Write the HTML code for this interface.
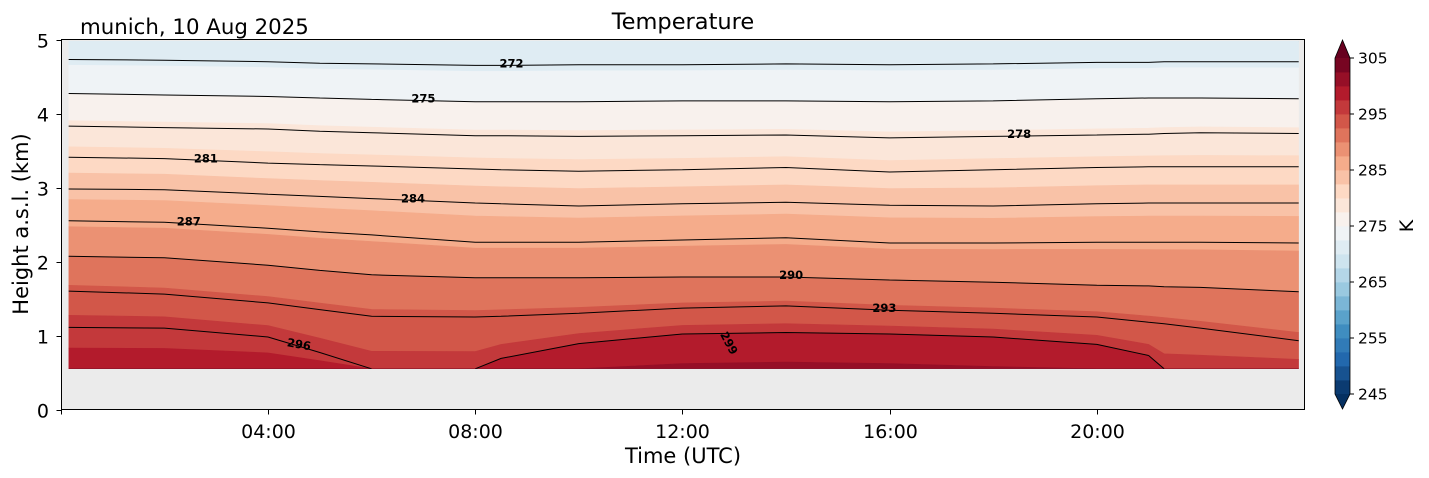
<!DOCTYPE html>
<html><head><meta charset="utf-8">
<style>
body{margin:0;background:#fff;}
svg{display:block;font-family:"DejaVu Sans","Liberation Sans",sans-serif;}
</style></head>
<body>
<svg id="chart" width="1429" height="478" viewBox="0 0 1429 478" xmlns="http://www.w3.org/2000/svg">
<text x="80" y="34" font-size="21.3" fill="#000">munich, 10 Aug 2025</text>
<text x="683" y="29" font-size="22.5" text-anchor="middle" fill="#000">Temperature</text>
<rect x="61.5" y="39.5" width="1243" height="370" fill="#ebebeb"/>
<defs><clipPath id="dclip"><rect id="dclipRect" x="0" y="0" width="0" height="0"/></clipPath></defs>
<g id="bands" clip-path="url(#dclip)"></g>
<g id="contours" clip-path="url(#dclip)"></g>
<g id="clabels"></g>
<rect x="61.5" y="39.5" width="1243" height="370" fill="none" stroke="#000" stroke-width="1"/>
<g id="axes"></g>
<g id="cbar"></g>
<text transform="translate(28,224) rotate(-90)" font-size="21" text-anchor="middle">Height a.s.l. (km)</text>
<text x="683" y="463" font-size="21" text-anchor="middle">Time (UTC)</text>
</svg>
<script>
// ---- data ----
const times = [0.15,2,4,5,6,8,8.5,10,12,14,16,18,20,21,21.3,22,23.9];
const levels = [272,275,278,281,284,287,290,293,296,299];
const h272 = [4.73,4.72,4.70,4.68,4.67,4.65,4.65,4.66,4.66,4.67,4.66,4.67,4.69,4.69,4.70,4.70,4.70];
const h275 = [4.27,4.25,4.23,4.21,4.19,4.16,4.16,4.16,4.17,4.17,4.16,4.17,4.20,4.21,4.21,4.21,4.20];
const h278 = [3.83,3.81,3.79,3.76,3.74,3.70,3.70,3.69,3.70,3.71,3.67,3.69,3.71,3.72,3.73,3.74,3.73];
const h281 = [3.41,3.39,3.33,3.31,3.29,3.25,3.24,3.22,3.24,3.27,3.21,3.24,3.27,3.28,3.28,3.28,3.28];
const h284 = [2.98,2.97,2.91,2.88,2.85,2.79,2.78,2.75,2.78,2.80,2.76,2.75,2.78,2.79,2.79,2.79,2.79];
const h287 = [2.55,2.53,2.45,2.40,2.36,2.26,2.26,2.26,2.29,2.32,2.25,2.25,2.26,2.26,2.26,2.26,2.25];
const h290 = [2.07,2.05,1.95,1.88,1.82,1.78,1.78,1.78,1.79,1.79,1.75,1.72,1.68,1.67,1.66,1.65,1.59];
const h293 = [1.60,1.56,1.44,1.35,1.26,1.25,1.26,1.30,1.37,1.40,1.34,1.30,1.25,1.18,1.16,1.10,0.93];
const h296 = [1.11,1.10,0.98,0.77,0.55,0.55,0.69,0.89,1.02,1.04,1.02,0.98,0.88,0.73,0.55,0.55,0.55];
const h299 = [0.55,0.55,0.55,0.55,0.55,0.55,0.69,0.89,1.02,1.04,1.02,0.98,0.88,0.73,0.55,0.55,0.55];
const labelLevels = [272,275,278,281,284,287,290,293,296,299];
const labelTimes = [8.7,7.0,18.5,2.8,6.8,2.47,14.1,15.9,4.6,12.9];
const labelAngles = [0,0,0,0,0,0,0,0,10,62];
const xTickHours = [4,8,12,16,20];
const xTickLabels = ["04:00","08:00","12:00","16:00","20:00"];
const yTicks = [0,1,2,3,4,5];
const cbTicks = [245,255,265,275,285,295,305];
const dataBottom = 0.55, dataTop = 4.98;
const vmin = 245, vmax = 305, vstep = 2.5;

// ---- axes functions ----
const X0 = 61.5, X1 = 1304.5, Y0 = 409.5, Y1 = 39.5;
const xs = h => 60.8 + 51.8 * h;
const ys = z => Y0 - (Y0 - Y1) * z / 5;
const cbY = v => 394 - (v - 245) * (336 / 60);
const NS = "http://www.w3.org/2000/svg";
function mk(tag, attrs, parent){ const e = document.createElementNS(NS, tag); for (const k in attrs) e.setAttribute(k, attrs[k]); parent.appendChild(e); return e; }

const heights = [h272,h275,h278,h281,h284,h287,h290,h293,h296,h299];
const cmapStops = ["#053061","#2166ac","#4393c3","#92c5de","#d1e5f0","#f7f7f7","#fddbc7","#f4a582","#d6604d","#b2182b","#67001f"];
function hex(c){return [1,3,5].map(i=>parseInt(c.substr(i,2),16));}
function cmap(n){ n=Math.max(0,Math.min(1,n)); const p=n*10, i=Math.min(9,Math.floor(p)), f=p-i; const a=hex(cmapStops[i]), b=hex(cmapStops[i+1]); return "rgb("+a.map((v,k)=>Math.round(v+(b[k]-v)*f)).join(",")+")"; }

function hAt(L, j){
  const n = levels.length;
  if (L <= levels[0]) { const s = (heights[1][j]-heights[0][j])/(levels[1]-levels[0]); return heights[0][j] + s*(L-levels[0]); }
  if (L >= levels[n-1]) { return heights[n-1][j] - 0.4*(L-levels[n-1]); }
  for (let i=0;i<n-1;i++){ if (L>=levels[i] && L<=levels[i+1]){ const f=(L-levels[i])/(levels[i+1]-levels[i]); return heights[i][j]+f*(heights[i+1][j]-heights[i][j]); } }
}
const clampZ = z => Math.max(dataBottom, Math.min(dataTop, z));

const cr = document.getElementById('dclipRect');
cr.setAttribute('x', xs(times[0])); cr.setAttribute('width', xs(times[times.length-1]) - xs(times[0]));
cr.setAttribute('y', ys(dataTop)); cr.setAttribute('height', ys(dataBottom) - ys(dataTop));

const gB = document.getElementById('bands');
const nb = Math.round((vmax - vmin)/vstep);
for (let b=-1; b<=nb; b++){
  const lo = vmin + b*vstep, hi = lo + vstep;
  const col = b < 0 ? cmapStops[0] : (b >= nb ? cmapStops[10] : cmap((lo + vstep/2 - vmin)/(vmax-vmin)));
  const top = times.map((t,j)=>[xs(t), ys(clampZ(b<0?10:hAt(lo,j)))]);
  const bot = times.map((t,j)=>[xs(t), ys(clampZ(b>=nb?-10:hAt(hi,j)))]);
  const pts = top.concat(bot.reverse()).map(p=>p[0].toFixed(1)+","+p[1].toFixed(1)).join(" ");
  const pg = mk('polygon', {points: pts, fill: col, stroke: col, 'stroke-width': 0.6}, gB);
  
  
}

const gC = document.getElementById('contours');
levels.forEach((L, i) => {
  const h = heights[i];
  const vis = h.map((z,j) => z > 0.56 && (i === levels.length-1 || z - heights[i+1][j] > 0.005));
  let d = "";
  for (let j=0;j<times.length-1;j++){
    if (vis[j] || vis[j+1]) {
      d += "M"+xs(times[j]).toFixed(1)+","+ys(h[j]).toFixed(1)+"L"+xs(times[j+1]).toFixed(1)+","+ys(h[j+1]).toFixed(1);
    }
  }
  const p = mk('path', {d: d, fill: 'none', stroke: '#000', 'stroke-width': 1, 'stroke-linejoin':'round'}, gC);
  
  
});
function hInterp(i, t){
  const h = heights[i];
  for (let j=0;j<times.length-1;j++){ if (t>=times[j] && t<=times[j+1]){ const f=(t-times[j])/(times[j+1]-times[j]); return h[j]+f*(h[j+1]-h[j]); } }
  return h[h.length-1];
}
const gL = document.getElementById('clabels');
labelLevels.forEach((L, k) => {
  const i = levels.indexOf(L);
  const x = xs(labelTimes[k]);
  let z = hInterp(i, labelTimes[k]);
  if (L === 299) z = 0.87;
  const y = ys(z) + 2;
  const t = mk('text', {x: x, y: y, 'font-size': 11.5, 'font-weight': 'bold', 'text-anchor': 'middle', transform: 'rotate(' + labelAngles[k] + ' ' + x + ' ' + (y-4) + ')'}, gL);
  t.textContent = L;
  
  
});

const gA = document.getElementById('axes');
mk('line', {x1: X0, y1: Y0, x2: X0, y2: Y0+5, stroke: '#000'}, gA);
xTickHours.forEach((h, k) => {
  const x = Math.round(xs(h)) + 0.5;
  const l = mk('line', {x1: x, y1: Y0, x2: x, y2: Y0+5, stroke: '#000'}, gA);
  
  
  const t = mk('text', {x: x, y: 438, 'font-size': 19, 'text-anchor': 'middle'}, gA);
  t.textContent = xTickLabels[k];
  
  
});
yTicks.forEach(v => {
  const y = Math.round(ys(v)) + 0.5;
  const l = mk('line', {x1: X0-5, y1: y, x2: X0, y2: y, stroke: '#000'}, gA);
  
  
  const t = mk('text', {x: 49, y: y+7, 'font-size': 19, 'text-anchor': 'end'}, gA);
  t.textContent = v;
  
  
});

const gCb = document.getElementById('cbar');
const cx0 = 1335, cx1 = 1350;
for (let b=0; b<nb; b++){
  const lo = vmin + b*vstep;
  const r = mk('rect', {x: cx0, y: cbY(lo+vstep).toFixed(2), width: cx1-cx0, height: (cbY(lo)-cbY(lo+vstep)+0.4).toFixed(2), fill: cmap((lo+vstep/2-vmin)/(vmax-vmin))}, gCb);
  
  
}
const up = mk('polygon', {points: cx0+","+cbY(vmax)+" "+(cx0+cx1)/2+",40 "+cx1+","+cbY(vmax), fill: cmapStops[10]}, gCb);


const dn = mk('polygon', {points: cx0+","+cbY(vmin)+" "+(cx0+cx1)/2+",409 "+cx1+","+cbY(vmin), fill: cmapStops[0]}, gCb);


mk('polygon', {points: cx0+","+cbY(vmax)+" "+(cx0+cx1)/2+",40 "+cx1+","+cbY(vmax)+" "+cx1+","+cbY(vmin)+" "+(cx0+cx1)/2+",409 "+cx0+","+cbY(vmin), fill: 'none', stroke: '#000', 'stroke-width': 0.8}, gCb);
cbTicks.forEach(v => {
  const y = cbY(v);
  mk('line', {x1: cx1, y1: y, x2: cx1+4, y2: y, stroke: '#000'}, gCb);
  const t = mk('text', {x: 1358, y: y+5.5, 'font-size': 15.5}, gCb);
  t.textContent = v;
  
  
});
const kl = mk('text', {transform: 'translate(1413,226) rotate(-90)', 'font-size': 19, 'text-anchor': 'middle'}, gCb);
kl.textContent = 'K';


</script>
</body></html>
